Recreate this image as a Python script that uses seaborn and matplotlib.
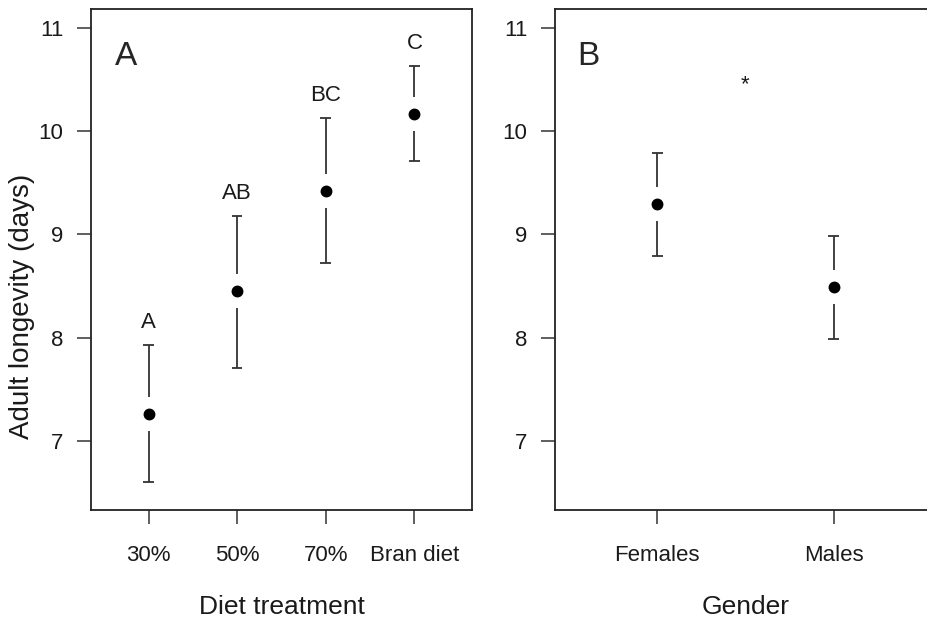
import pandas as pd
import seaborn as sns
import matplotlib.pyplot as plt

# Panel A: diet treatment
diets = ['30%', '50%', '70%', 'Bran diet']
diet_mean = [7.26, 8.45, 9.42, 10.17]
diet_upper = [7.93, 9.18, 10.13, 10.63]
diet_lower = [6.60, 7.71, 8.72, 9.71]
diet_letters = ['A', 'AB', 'BC', 'C']

# Panel B: gender
genders = ['Females', 'Males']
gender_mean = [9.29, 8.49]
gender_upper = [9.79, 8.98]
gender_lower = [8.79, 7.99]

sns.set_theme(style='ticks')
plt.rcParams['font.family'] = ['Liberation Sans', 'DejaVu Sans']
ink = '#1a1a1a'


def draw_ci(ax, means, upper, lower, gap=0.165, cap=0.06):
    # plotCI-style bars with a gap around the point
    for i, (m, u, l) in enumerate(zip(means, upper, lower)):
        ax.vlines(i, m + gap, u, color='#333333', lw=1.3)
        ax.vlines(i, l, m - gap, color='#333333', lw=1.3)
        ax.hlines([u, l], i - cap, i + cap, color='#333333', lw=1.3)


def style_axis(ax, xlabel):
    ax.set_ylim(6.33, 11.18)
    ax.set_yticks([7, 8, 9, 10, 11])
    for s in ax.spines.values():
        s.set_visible(True)
        s.set_color('#222222')
        s.set_linewidth(1.3)
    ax.tick_params(direction='out', length=10, width=1.1, color='#333333',
                   labelsize=16, labelcolor=ink)
    ax.tick_params(axis='x', pad=15)
    ax.tick_params(axis='y', pad=10)
    ax.set_xlabel(xlabel, fontsize=19, color=ink, labelpad=21)


fig = plt.figure(figsize=(9.28, 6.28), dpi=100)
ax1 = fig.add_axes([0.098, 0.188, 0.4106, 0.797])
ax2 = fig.add_axes([0.598, 0.188, 0.4106, 0.797])

df_a = pd.DataFrame({'diet': diets, 'mean': diet_mean})
sns.pointplot(data=df_a, x='diet', y='mean', color='black', linestyle='none',
              markers='o', markersize=6.5, errorbar=None, ax=ax1, zorder=5)
draw_ci(ax1, diet_mean, diet_upper, diet_lower, cap=0.06)
for i, (u, lab) in enumerate(zip(diet_upper, diet_letters)):
    ax1.text(i, u + 0.22, lab, ha='center', va='center', fontsize=16, color=ink)
ax1.set_xlim(-0.65, 3.65)
style_axis(ax1, 'Diet treatment')
ax1.set_ylabel('Adult longevity (days)', fontsize=20, color=ink)
ax1.yaxis.set_label_coords(-0.147, 0.407)
ax1.text(0.062, 0.905, 'A', transform=ax1.transAxes, fontsize=24, ha='left', va='center')

df_b = pd.DataFrame({'gender': genders, 'mean': gender_mean})
sns.pointplot(data=df_b, x='gender', y='mean', color='black', linestyle='none',
              markers='o', markersize=6.5, errorbar=None, ax=ax2, zorder=5)
draw_ci(ax2, gender_mean, gender_upper, gender_lower, cap=0.03)
ax2.text(0.5, 10.45, '*', ha='center', va='center', fontsize=16, color=ink)
ax2.set_xlim(-0.58, 1.58)
style_axis(ax2, 'Gender')
ax2.set_ylabel('')
ax2.text(0.058, 0.905, 'B', transform=ax2.transAxes, fontsize=24, ha='left', va='center')

fig.savefig('out.png', dpi=100)
